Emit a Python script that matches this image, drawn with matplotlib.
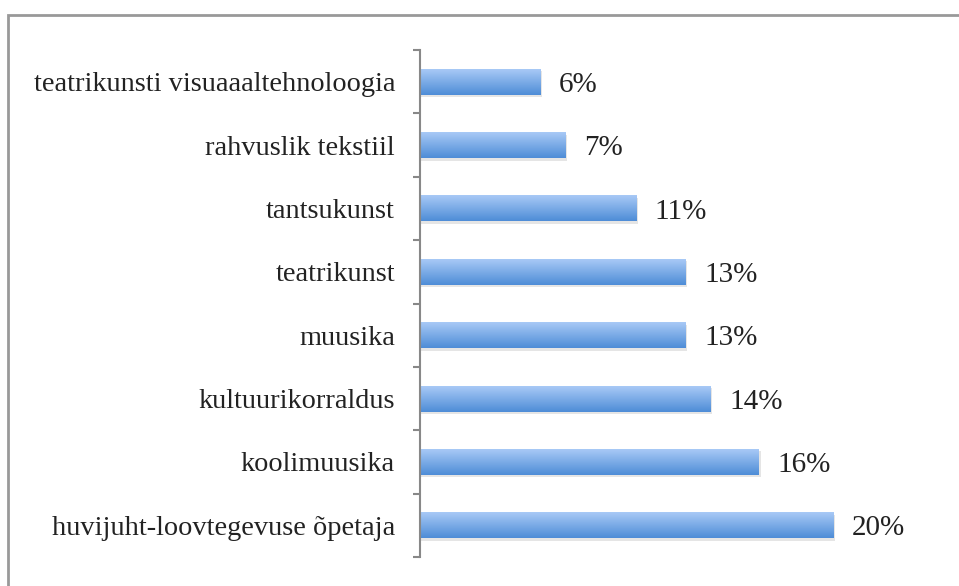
import numpy as np
import matplotlib.pyplot as plt
from matplotlib.colors import LinearSegmentedColormap
from matplotlib.patches import Rectangle

# data, top to bottom
categories = [
    'teatrikunsti visuaaaltehnoloogia',
    'rahvuslik tekstiil',
    'tantsukunst',
    'teatrikunst',
    'muusika',
    'kultuurikorraldus',
    'koolimuusika',
    'huvijuht-loovtegevuse õpetaja',
]
values = [5.85, 7.05, 10.5, 12.9, 12.9, 14.1, 16.45, 20.05]
value_labels = ['6%', '7%', '11%', '13%', '13%', '14%', '16%', '20%']

plt.rcParams['font.family'] = ['Liberation Serif', 'DejaVu Serif']

W, H = 959, 586
fig = plt.figure(figsize=(W / 100, H / 100), dpi=100)

# gray frame (only top and left visible in the original crop)
fig.add_artist(Rectangle((8 / W, -0.1), 1.2, (H - 15) / H + 0.1,
                         transform=fig.transFigure, facecolor='none',
                         edgecolor='#999999', linewidth=2))

ax = fig.add_axes([420 / W, 29 / H, 520 / W, 507 / H])

grad = LinearSegmentedColormap.from_list('barblue', ['#a8c9f6', '#4e8dd7'])
bar_h = 0.41
ypos = np.arange(len(categories))

for y, v, lab in zip(ypos, values, value_labels):
    # soft shadow
    ax.add_patch(Rectangle((0, y - bar_h / 2 + 0.04), v + 0.08, bar_h,
                           facecolor='#999999', alpha=0.25, edgecolor='none', zorder=1))
    rect = Rectangle((0, y - bar_h / 2), v, bar_h, facecolor='none',
                     edgecolor='none', zorder=2)
    ax.add_patch(rect)
    im = ax.imshow(np.linspace(0, 1, 64).reshape(-1, 1), cmap=grad, aspect='auto',
                   extent=[0, v, y + bar_h / 2, y - bar_h / 2], zorder=2,
                   interpolation='bilinear')
    im.set_clip_path(rect)
    ax.text(v + 0.9, y + 0.05, lab, va='center', ha='left', fontsize=21, color='#222222')

ax.set_xlim(0, 520 / 20.6)
ax.set_ylim(len(categories) - 0.5, -0.5)

for s in ['top', 'right', 'bottom']:
    ax.spines[s].set_visible(False)
ax.spines['left'].set_color('#888888')
ax.spines['left'].set_linewidth(1.5)

ax.set_xticks([])
ax.set_yticks(ypos)
ax.set_yticklabels(categories, fontsize=20.4, color='#222222')
ax.tick_params(axis='y', which='major', length=0, pad=18)
ax.set_yticks(np.arange(-0.5, len(categories)), minor=True)
ax.tick_params(axis='y', which='minor', length=5, width=1.5, color='#888888', direction='out')

fig.savefig('out.png', dpi=100)
